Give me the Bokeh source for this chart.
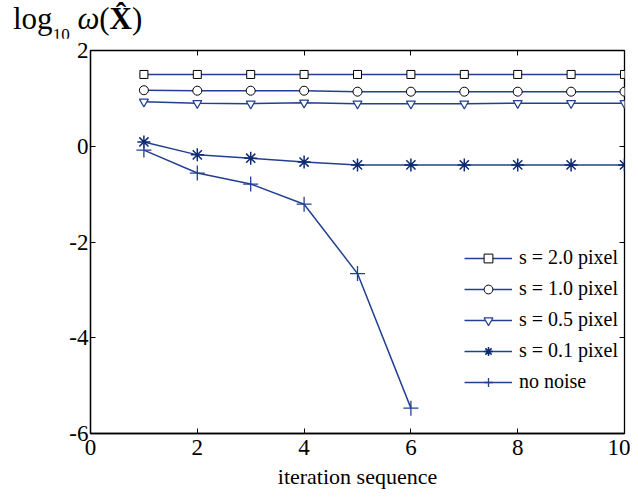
from bokeh.plotting import figure
from bokeh.models import (Legend, LegendItem, LinearAxis, FixedTicker, Range1d, Div,
                          CustomJSTickFormatter)
from bokeh.layouts import column
from bokeh.embed import file_html
from bokeh.resources import INLINE

iterations = [1, 2, 3, 4, 5, 6, 7, 8, 9, 10]
s_2_0 = [1.50, 1.50, 1.50, 1.50, 1.50, 1.50, 1.50, 1.50, 1.50, 1.50]
s_1_0 = [1.17, 1.16, 1.16, 1.16, 1.14, 1.14, 1.14, 1.14, 1.14, 1.14]
s_0_5 = [0.93, 0.90, 0.89, 0.91, 0.89, 0.89, 0.89, 0.90, 0.90, 0.90]
s_0_1 = [0.09, -0.18, -0.25, -0.33, -0.39, -0.39, -0.39, -0.39, -0.39, -0.39]
iter_nonoise = [1, 2, 3, 4, 5, 6]
no_noise = [-0.08, -0.56, -0.79, -1.21, -2.66, -5.47]

x_ticks = [0, 2, 4, 6, 8, 10]
y_ticks = [-6, -4, -2, 0, 2]
legend_labels = ["s = 2.0 pixel", "s = 1.0 pixel", "s = 0.5 pixel", "s = 0.1 pixel", "no noise"]
x_label = "iteration sequence"
y_title_html = ("log<span style='font-size:17px;position:relative;top:11px;'>10</span>"
                "&nbsp;<i>\u03c9</i>(<b>X\u0302</b>)")

FONT = "Liberation Serif"
LINE = "#22408f"
DARK = "#0d2b73"

title_div = Div(text=y_title_html, width=630, height=38, margin=0,
                styles={"font-family": FONT, "font-size": "31px", "line-height": "38px",
                        "padding-left": "13px", "color": "black", "white-space": "nowrap"})

p = figure(frame_width=534, frame_height=383,
           min_border_left=90, min_border_right=6, min_border_top=12, min_border_bottom=56,
           x_range=Range1d(0, 10), y_range=Range1d(-6, 2),
           output_backend="svg", toolbar_location=None)
p.grid.visible = False
p.outline_line_color = "black"
p.outline_line_width = 1.3
p.background_fill_color = "white"
p.border_fill_color = "white"

for ax, ticks in ((p.xaxis[0], x_ticks), (p.yaxis[0], y_ticks)):
    ax.ticker = FixedTicker(ticks=ticks)
    ax.major_label_overrides = {t: str(t) for t in ticks}
    ax.major_tick_in = 5
    ax.major_tick_out = 0
    ax.minor_tick_line_color = None
    ax.axis_line_color = "black"
    ax.axis_line_width = 1.3
    ax.major_tick_line_width = 1
    ax.major_label_text_font = FONT
    ax.major_label_text_font_size = "23px"
    ax.major_label_text_color = "black"
p.xaxis[0].major_label_standoff = 6
p.yaxis[0].major_label_standoff = 2
p.xaxis[0].axis_label = x_label
p.xaxis[0].axis_label_text_font = FONT
p.xaxis[0].axis_label_text_font_size = "22px"
p.xaxis[0].axis_label_text_font_style = "normal"
p.xaxis[0].axis_label_text_color = "black"
p.xaxis[0].axis_label_standoff = 6

for loc, ticks in (("right", y_ticks), ("above", x_ticks)):
    ax = LinearAxis(ticker=FixedTicker(ticks=ticks), major_tick_in=5, major_tick_out=0,
                    minor_tick_line_color=None, axis_line_color=None,
                    formatter=CustomJSTickFormatter(code="return ''"),
                    major_label_text_font_size="1px", major_label_standoff=0)
    p.add_layout(ax, loc)

r_l1 = p.line(iterations, s_2_0, line_color=LINE, line_width=1.5)
r_m1 = p.scatter(iterations, s_2_0, marker="square", size=8, line_color="black", fill_color="white", line_width=1)
r_l2 = p.line(iterations, s_1_0, line_color=LINE, line_width=1.5)
r_m2 = p.scatter(iterations, s_1_0, marker="circle", size=9, line_color="black", fill_color="white", line_width=1)
r_l3 = p.line(iterations, s_0_5, line_color=LINE, line_width=1.5)
r_m3 = p.scatter(iterations, s_0_5, marker="inverted_triangle", size=9, line_color=LINE, fill_color="white", line_width=1.2)
r_l4 = p.line(iterations, s_0_1, line_color=LINE, line_width=1.5)
r_m4 = p.scatter(iterations, s_0_1, marker="asterisk", size=13, line_color=DARK, line_width=1.5)
r_l5 = p.line(iter_nonoise, no_noise, line_color=LINE, line_width=1.5)
r_m5 = p.scatter(iter_nonoise, no_noise, marker="cross", size=15, line_color=LINE, line_width=1.3)

items = [LegendItem(label=lab, renderers=rs) for lab, rs in zip(
    legend_labels, [[r_l1, r_m1], [r_l2, r_m2], [r_l3, r_m3], [r_l4, r_m4], [r_l5, r_m5]])]
legend = Legend(items=items, location=(374, 40), padding=0, margin=0, spacing=8,
                glyph_width=48, glyph_height=22, label_height=22, label_standoff=7,
                label_text_font=FONT, label_text_font_size="20px", label_text_color="black",
                border_line_color=None, background_fill_color="white", background_fill_alpha=1)
p.add_layout(legend, "center")

layout = column(title_div, p, spacing=0)
open("out.html", "w").write(file_html(layout, INLINE))
